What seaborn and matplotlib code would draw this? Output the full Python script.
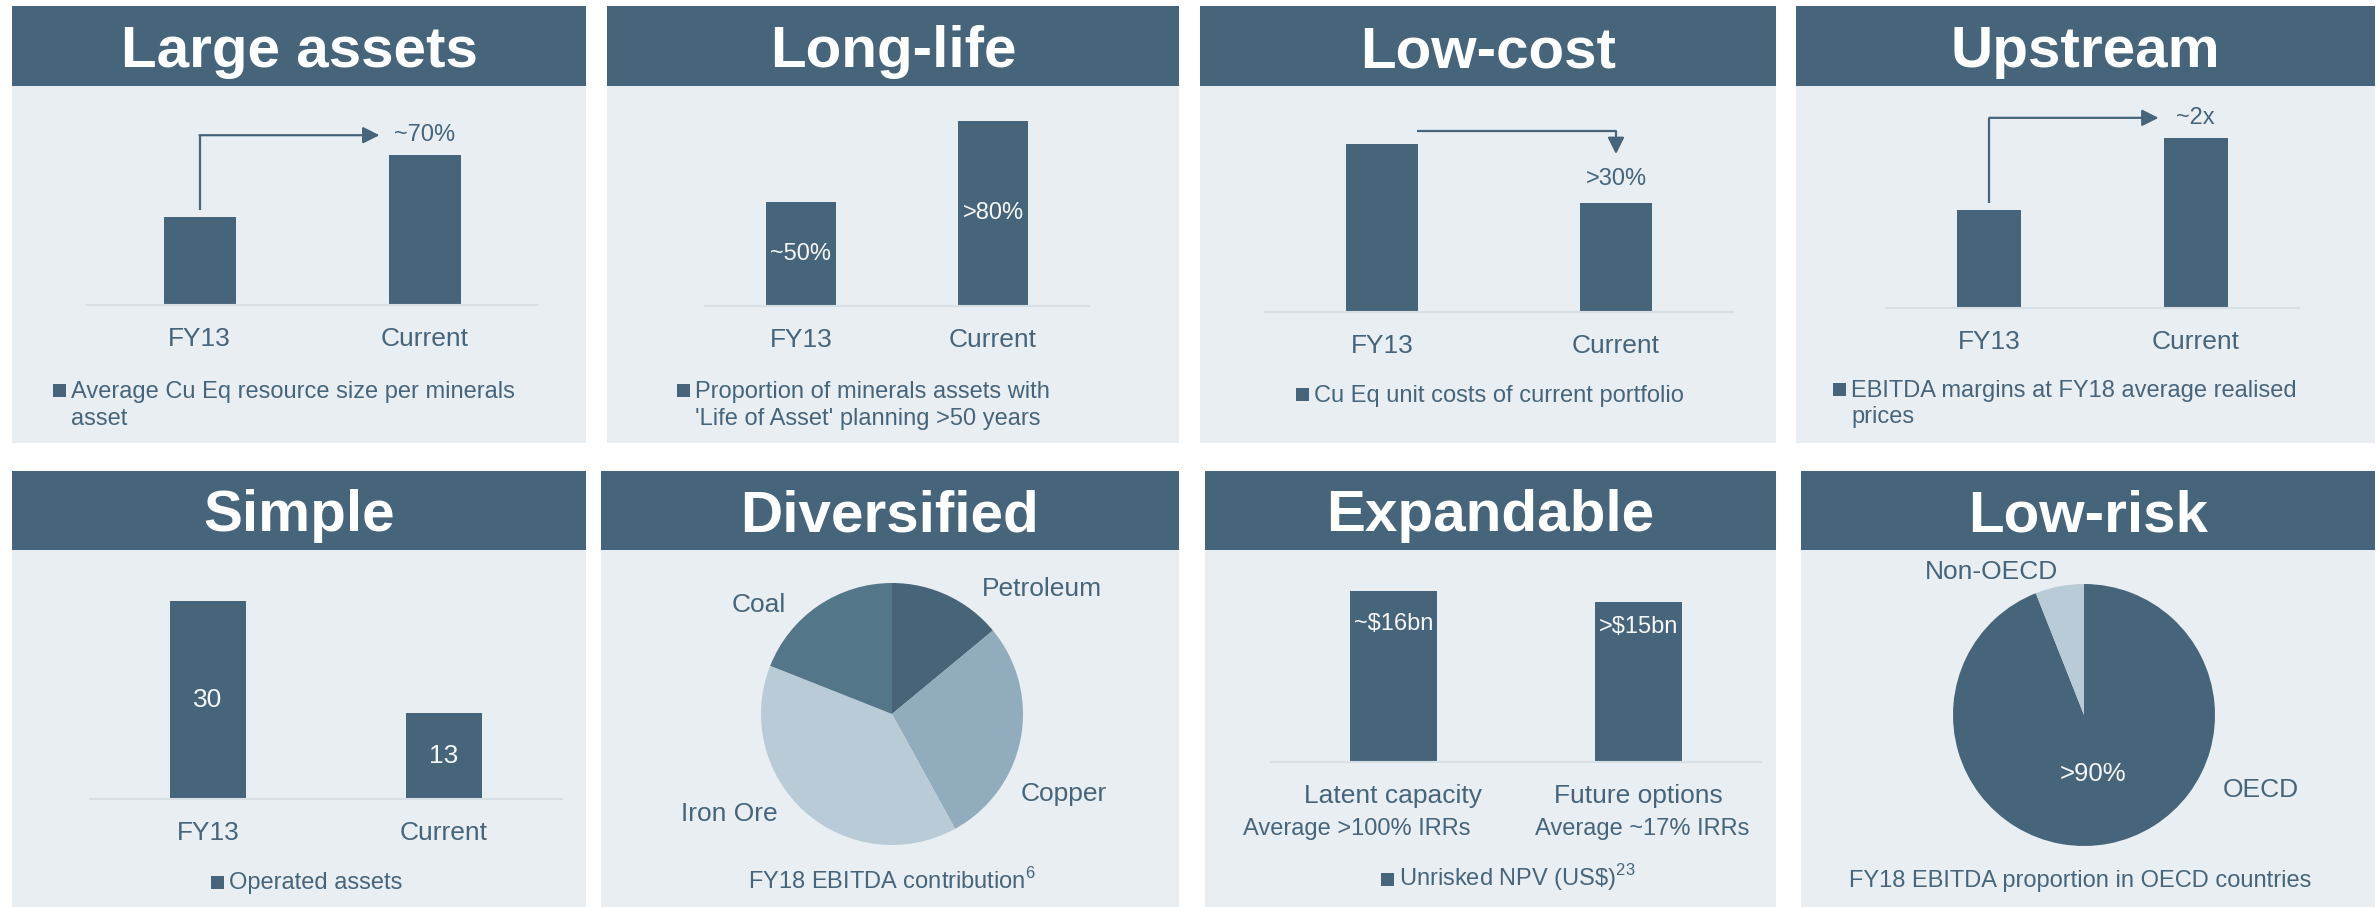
import matplotlib
matplotlib.use('Agg')
import matplotlib.pyplot as plt
import matplotlib.patches as mpatches
import seaborn as sns

sns.set_theme(style='white')
plt.rcParams['font.family'] = ['Liberation Sans', 'DejaVu Sans']
plt.rcParams['mathtext.fontset'] = 'custom'
plt.rcParams['mathtext.rm'] = 'Liberation Sans'

W, H = 2379, 907
DARK = '#47657A'
BODY = '#E8EEF2'
TXT = '#47657A'
LINE = '#D7DEE4'
WHITE = '#F5F7F8'

# --- data ---
cats = ['FY13', 'Current']
large_vals = [1.0, 1.7]
longlife_vals = [50, 89]
longlife_lbls = ['~50%', '>80%']
lowcost_vals = [100, 65]
upstream_vals = [100, 173]
simple_vals = [30, 13]
simple_lbls = ['30', '13']
expand_cats = ['Latent capacity', 'Future options']
expand_sub = ['Average >100% IRRs', 'Average ~17% IRRs']
expand_vals = [16, 15]
expand_lbls = ['~$16bn', '>$15bn']
div_names = ['Petroleum', 'Copper', 'Iron Ore', 'Coal']
div_share = [14, 28, 39, 19]
div_colors = ['#476478', '#91ACBD', '#B9CBD6', '#537689']
risk_names = ['OECD', 'Non-OECD']
risk_share = [94, 6]
risk_colors = ['#47657A', '#B9CBD6']

fig = plt.figure(figsize=(W / 100, H / 100), dpi=100)
fig.patch.set_facecolor('white')


def frac(x0, y0, x1, y1):
    # pixel box (top-left origin) -> figure fraction rect
    return [x0 / W, 1 - y1 / H, (x1 - x0) / W, (y1 - y0) / H]


def box(x0, y0, x1, y1, color, z=-10):
    fig.add_artist(mpatches.Rectangle((x0 / W, 1 - y1 / H), (x1 - x0) / W, (y1 - y0) / H,
                                      transform=fig.transFigure, color=color, lw=0, zorder=z))


def panel(x0, x1, top, mid, bot, title):
    box(x0, top, x1, mid, DARK)
    box(x0, mid, x1, bot, BODY)
    fig.text((x0 + x1) / 2 / W, 1 - (mid - 19) / H, title, ha='center', va='baseline',
             fontsize=42, fontweight='bold', color='white')


def legend(x, y, lines, baselines):
    box(x, y, x + 13, y + 13, DARK, z=5)
    for t, b in zip(lines, baselines):
        fig.text((x + 18) / W, 1 - b / H, t, fontsize=17, color=TXT, va='baseline')


def bars(rect, xc, vals, ymax, width):
    ax = fig.add_axes(frac(*rect))
    sns.barplot(x=xc, y=vals, ax=ax, color=DARK, saturation=1, width=width, linewidth=0)
    ax.set_xlim(-0.5, 1.5)
    ax.set_ylim(0, ymax)
    ax.set_facecolor('none')
    for s in ['top', 'right', 'left']:
        ax.spines[s].set_visible(False)
    ax.spines['bottom'].set_color(LINE)
    ax.spines['bottom'].set_linewidth(1.5)
    ax.set_yticks([])
    ax.set_xlabel('')
    ax.set_ylabel('')
    ax.tick_params(axis='x', length=0, pad=16, labelsize=19, labelcolor=TXT)
    return ax


def arrow(ax, seg_x, seg_y, tip):
    ax.plot(seg_x, seg_y, color=DARK, lw=1.6, solid_capstyle='butt')
    ax.annotate('', xy=tip, xytext=(seg_x[-1], seg_y[-1]),
                arrowprops=dict(arrowstyle='-|>', color=DARK, lw=1.6, mutation_scale=25,
                                shrinkA=0, shrinkB=0))


# panels
panel(12, 586, 6, 86, 443, 'Large assets')
panel(607, 1179, 6, 86, 443, 'Long-life')
panel(1200, 1776, 6, 86, 443, 'Low-cost')
panel(1796, 2375, 6, 86, 443, 'Upstream')
panel(12, 586, 471, 550, 907, 'Simple')
panel(601, 1179, 471, 550, 907, 'Diversified')
panel(1205, 1776, 471, 550, 907, 'Expandable')
panel(1801, 2375, 471, 550, 907, 'Low-risk')

# Large assets
ax = bars((87, 100, 537, 305), cats, large_vals, 2.33, 0.32)
arrow(ax, [0, 0], [1.08, 1.93], (0.8, 1.93))
ax.text(1, 1.93, '~70%', ha='center', va='center', fontsize=17, color=TXT)
legend(53, 384, ['Average Cu Eq resource size per minerals', 'asset'], [398, 425])

# Long-life
ax = bars((705, 100, 1089, 306), cats, longlife_vals, 99.0, 0.36)
for i, (v, t) in enumerate(zip(longlife_vals, longlife_lbls)):
    ax.text(i, v / 2, t, ha='center', va='center', fontsize=17, color=WHITE)
legend(677, 384, ['Proportion of minerals assets with', "'Life of Asset' planning >50 years"], [398, 425])

# Low-cost
ax = bars((1265, 100, 1733, 312), cats, lowcost_vals, 126.2, 0.31)
arrow(ax, [0.15, 1], [107.7, 107.7], (1, 94))
ax.text(1, 79.2, '>30%', ha='center', va='center', fontsize=17, color=TXT)
legend(1296, 388, ['Cu Eq unit costs of current portfolio'], [402])

# Upstream
ax = bars((1886, 100, 2299, 308), cats, upstream_vals, 212.2, 0.31)
arrow(ax, [0, 0], [107, 194], (0.82, 194))
ax.text(1, 194, '~2x', ha='center', va='center', fontsize=17, color=TXT)
legend(1833, 383, ['EBITDA margins at FY18 average realised', 'prices'], [397, 423])

# Simple
ax = bars((90, 560, 562, 799), cats, simple_vals, 36.2, 0.32)
for i, (v, t) in enumerate(zip(simple_vals, simple_lbls)):
    ax.text(i, v / 2, t, ha='center', va='center', fontsize=19, color=WHITE)
legend(211, 876, ['Operated assets'], [889])

# Expandable
ax = bars((1271, 560, 1761, 762), expand_cats, expand_vals, 18.9, 0.355)
for i, (t, y, off) in enumerate(zip(expand_lbls, [12.9, 12.6], [0, 0])):
    ax.text(i + off, y, t, ha='center', va='center', fontsize=17, color=WHITE)
for i, (t, off) in enumerate(zip(expand_sub, [-0.15, 0.014])):
    ax.text(i + off, -0.332, t, ha='center', va='center', fontsize=17, color=TXT,
            transform=ax.get_xaxis_transform(), clip_on=False)
legend(1381, 873, ['Unrisked NPV (US\\$)$^{\\mathrm{23}}$'], [886])

# Diversified pie
ax = fig.add_axes(frac(761, 583, 1023, 845))
ax.pie(div_share, colors=div_colors, startangle=90, counterclock=False,
       wedgeprops=dict(linewidth=0))
ax.set_xlim(-1, 1)
ax.set_ylim(-1, 1)
ax.set_aspect('equal')
for name, (x, y) in zip(div_names, [(1.145, 0.954), (1.31, -0.61), (-1.24, -0.76), (-1.02, 0.83)]):
    ax.text(x, y, name, ha='center', va='center', fontsize=19, color=TXT, clip_on=False)
fig.text(892 / W, 1 - 889 / H, 'FY18 EBITDA contribution$^{\\mathrm{6}}$', ha='center',
         va='baseline', fontsize=17, color=TXT)

# Low-risk pie
ax = fig.add_axes(frac(1953, 584, 2215, 846))
ax.pie(risk_share, colors=risk_colors, startangle=90, counterclock=False,
       wedgeprops=dict(linewidth=0))
ax.set_xlim(-1, 1)
ax.set_ylim(-1, 1)
ax.set_aspect('equal')
ax.text(1.35, -0.57, risk_names[0], ha='center', va='center', fontsize=19, color=TXT, clip_on=False)
ax.text(-0.706, 1.09, risk_names[1], ha='center', va='center', fontsize=19, color=TXT, clip_on=False)
ax.text(0.07, -0.45, '>90%', ha='center', va='center', fontsize=18.5, color=WHITE)
fig.text(2080 / W, 1 - 887 / H, 'FY18 EBITDA proportion in OECD countries', ha='center',
         va='baseline', fontsize=17, color=TXT)

fig.savefig('out.png', dpi=100, facecolor='white')
